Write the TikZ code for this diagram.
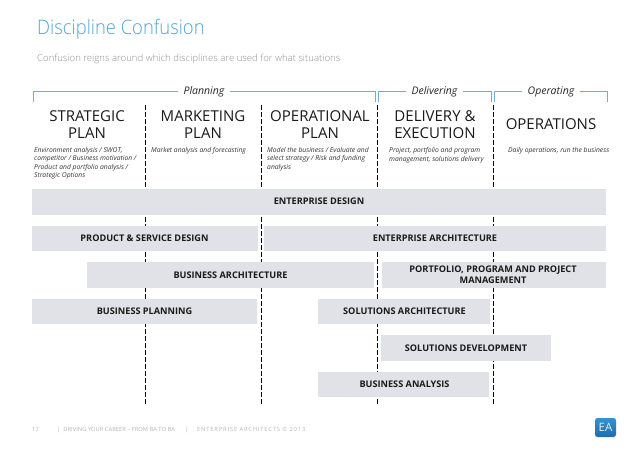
\documentclass[tikz,border=0pt]{standalone}
\usepackage{fontspec}
\setmainfont{Open Sans}
\newfontfamily\lightfont[FakeStretch=0.92]{Open Sans Light}
\newfontfamily\sublight{Open Sans Light}
\definecolor{barfill}{HTML}{E0E2E7}
\definecolor{brk}{HTML}{6FAED3}
\definecolor{titleblue}{HTML}{4FA6D2}
\definecolor{subgrey}{HTML}{8F8F8F}
\definecolor{footgrey}{HTML}{B5B5B5}
\definecolor{eatop}{HTML}{3492D2}
\definecolor{eabot}{HTML}{1F6DA8}
\tikzset{
 bar/.style={fill=barfill,draw=none,inner sep=0pt,font=\fontsize{9.15}{11}\selectfont\bfseries,text=black!90,align=center},
 head/.style={font=\fontsize{15}{17}\selectfont,text=black!90,align=center,inner sep=0pt},
 desc/.style={font=\fontsize{6.75}{8.15}\selectfont\itshape,text=black!80,align=left,anchor=north west,inner sep=0pt},
 phase/.style={font=\fontsize{10.5}{12}\selectfont\itshape,text=black!85,inner xsep=5.5pt,inner ysep=0pt},
 bracket/.style={draw=brk,line width=1pt},
 divider/.style={draw=black,line width=0.7pt,dash pattern=on 4.5pt off 2.5pt},
 foot/.style={font=\fontsize{5.8}{6}\selectfont,text=footgrey,inner sep=0pt,anchor=west}
}
\newcommand{\barnode}[7]{\node[bar,minimum width=#4pt-#3pt,minimum height=#6pt-#5pt] (#1) at ({(#3+#4)/2},{(#5+#6)/2}) {}; \node[bar,fill=none] (#1t) at #2 {#7};}
\begin{document}
\begin{tikzpicture}[x=1pt,y=-1pt]
\useasboundingbox (0,0) rectangle (638,448);
\node[anchor=base west,inner sep=0pt,font=\fontsize{20}{24}\lightfont,text=titleblue] (title) at (37,34.5) {Discipline Confusion};
\node[anchor=base west,inner sep=0pt,font=\fontsize{9.6}{11}\sublight,text=subgrey] (sub) at (37,61) {Confusion reigns around which disciplines are used for what situations};
% phase brackets
\node[phase] (planning) at (204,91.5) {Planning};
\node[phase] (delivering) at (434.5,91.5) {Delivering};
\node[phase] (operating) at (551,91.5) {Operating};
\coordinate (p1) at (33.5,102); \coordinate (p2) at (375.5,102);
\coordinate (d1) at (378,102); \coordinate (d2) at (491,102);
\coordinate (o1) at (494.5,102); \coordinate (o2) at (607,102);
\draw[bracket] (p1) |- (planning.west);
\draw[bracket] (p2) |- (planning.east);
\draw[bracket] (d1) |- (delivering.west);
\draw[bracket] (d2) |- (delivering.east);
\draw[bracket] (o1) |- (operating.west);
\draw[bracket] (o2) |- (operating.east);
% dividers
\foreach \n/\x in {a/145.5,b/261.5,c/377.5,e/493.5}{
 \coordinate (\n top) at (\x,105); \coordinate (\n bot) at (\x,405);
 \draw[divider] (\n top) -- (\n bot);
}
% headings
\node[head] (h1) at (87,125) {STRATEGIC\\PLAN};
\node[head] (h2) at (203,125) {MARKETING\\PLAN};
\node[head] (h3) at (320,125) {OPERATIONAL\\PLAN};
\node[head] (h4) at (435,124.5) {DELIVERY \&\\EXECUTION};
\node[head] (h5) at (551,124) {OPERATIONS};
% descriptions
\node[desc] (d1t) at (34,147.5) {Environment analysis / SWOT,\\competitor / Business motivation /\\Product and portfolio analysis /\\Strategic Options};
\node[desc] (d2t) at (151,147.5) {Market analysis and forecasting};
\node[desc] (d3t) at (267,147.5) {Model the business / Evaluate and\\select strategy / Risk and funding\\analysis};
\node[desc] (d4t) at (389,147.5) {Project, portfolio and program\\management, solutions delivery};
\node[desc] (d5t) at (508,147.5) {Daily operations, run the business};
% bars
\barnode{ed}{(319,201.5)}{32}{606}{189}{214.5}{ENTERPRISE DESIGN}
\barnode{ps}{(144.5,238.5)}{32}{258}{225.5}{251}{PRODUCT \& SERVICE DESIGN}
\barnode{ea}{(435,238.5)}{264}{606}{225.5}{251}{ENTERPRISE ARCHITECTURE}
\barnode{ba}{(230.5,275)}{87}{374}{262}{288}{BUSINESS ARCHITECTURE}
\barnode{pp}{(493,275)}{381.5}{606}{262}{288}{PORTFOLIO, PROGRAM AND PROJECT\\MANAGEMENT}
\barnode{bp}{(144.5,311.5)}{32}{257}{298.5}{324}{BUSINESS PLANNING}
\barnode{sa}{(404.5,311.5)}{318}{490}{298.5}{324}{SOLUTIONS ARCHITECTURE}
\barnode{sd}{(466,348)}{381}{551}{335}{360.5}{SOLUTIONS DEVELOPMENT}
\barnode{bn}{(404.5,384.5)}{318}{489}{372}{397}{BUSINESS ANALYSIS}
% footer
\node[foot] (f1) at (32,429.5) {17};
\node[foot] (f2) at (57,429.5) {|\hspace{1.5pt} DRIVING YOUR CAREER – FROM BA TO BA};
\node[foot] (f3) at (185,429.5) {|};
\node[foot,font=\fontsize{5.8}{6}\selectfont\addfontfeature{LetterSpace=14}] (f4) at (197,429.5) {ENTERPRISE ARCHITECTS © 2013};
% logo
\node[top color=eatop,bottom color=eabot,rounded corners=2.5pt,minimum width=21pt,minimum height=19pt,inner sep=0pt,text=white!85!eatop,font=\fontsize{11.5}{12}\selectfont] (logo) at (605.5,427.5) {EA};
\end{tikzpicture}
\end{document}
